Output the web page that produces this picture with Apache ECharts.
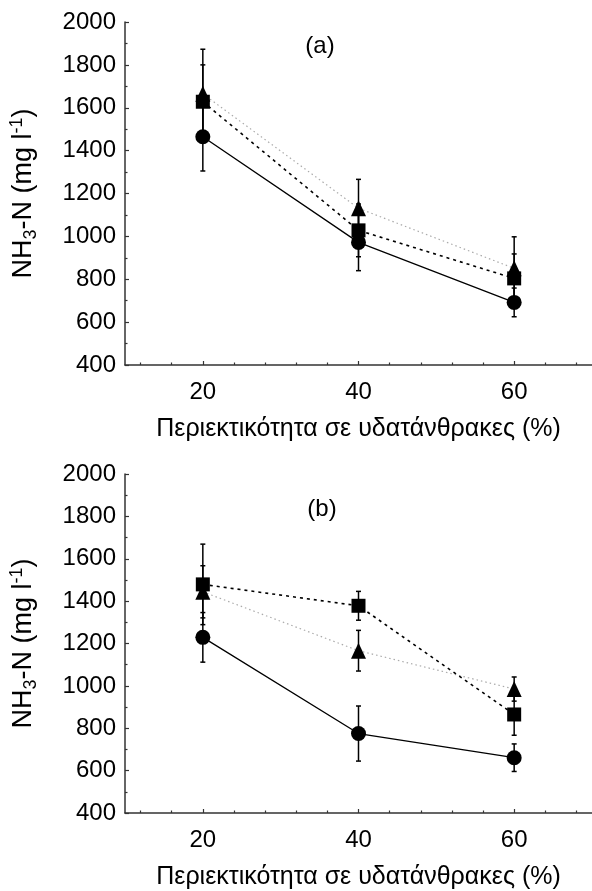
<!DOCTYPE html>
<html><head><meta charset="utf-8">
<script src="https://cdn.jsdelivr.net/npm/echarts@6/dist/echarts.min.js"></script>
<style>html,body{margin:0;padding:0;background:#fff}#c{width:592px;height:891px}</style>
</head><body><div id="c"></div>
<script>
// ---- data ----
const xValues = [20, 40, 60];
const xMajorTicks = [20, 40, 60];
const xMinorTicks = [12, 16, 24, 28, 32, 36, 44, 48, 52, 56, 64, 68];
const panelLabels = ['(a)', '(b)'];
const xTitle = 'Περιεκτικότητα σε υδατάνθρακες (%)';

// Panel (a)
const a_circle = [1465, 972, 692];
const a_circle_err = [160, 132, 67];
const a_square = [1628, 1028, 804];
const a_square_err = [172, 123, 114];
const a_triangle = [1665, 1131, 851];
const a_triangle_err = [208, 135, 147];

// Panel (b)
const b_circle = [1229, 775, 661];
const b_circle_err = [117, 130, 65];
const b_square = [1479, 1378, 865];
const b_square_err = [190, 68, 98];
const b_triangle = [1444, 1166, 985];
const b_triangle_err = [123, 96, 57];

// ---- chart ----
const FONT = "'Liberation Sans', Arial, sans-serif";
const AX = '#333';

function errSeries(xi, yi, vals, errs) {
  return {
    type: 'custom', xAxisIndex: xi, yAxisIndex: yi, silent: true, z: 4,
    data: xValues.map((x, i) => [x, vals[i] - errs[i], vals[i] + errs[i]]),
    renderItem(params, api) {
      const x = api.value(0);
      const lo = api.coord([x, api.value(1)]);
      const hi = api.coord([x, api.value(2)]);
      const w = 2.5;
      const st = { stroke: '#000', lineWidth: 1.5 };
      return { type: 'group', children: [
        { type: 'line', shape: { x1: lo[0], y1: lo[1], x2: hi[0], y2: hi[1] }, style: st },
        { type: 'line', shape: { x1: lo[0] - w, y1: lo[1], x2: lo[0] + w, y2: lo[1] }, style: st },
        { type: 'line', shape: { x1: hi[0] - w, y1: hi[1], x2: hi[0] + w, y2: hi[1] }, style: st }
      ]};
    }
  };
}

function lineSeries(xi, yi, vals, symbol, size, lineStyle, z) {
  return {
    type: 'line', xAxisIndex: xi, yAxisIndex: yi, z: z,
    data: xValues.map((x, i) => [x, vals[i]]),
    symbol: symbol, symbolSize: size, showSymbol: true,
    itemStyle: { color: '#000', borderWidth: 0 },
    lineStyle: lineStyle, silent: true, animation: false
  };
}

function xMajor(gi) {
  return {
    type: 'value', gridIndex: gi, min: 10, max: 70, position: 'bottom',
    axisLine: { show: true, onZero: false, lineStyle: { color: AX, width: 1.5 } },
    axisTick: { show: true, inside: true, length: 4, customValues: xMajorTicks, lineStyle: { color: AX, width: 1.2 } },
    axisLabel: { show: true, customValues: xMajorTicks, fontSize: 24, color: '#000', fontFamily: FONT, margin: 15 },
    splitLine: { show: false },
    name: xTitle, nameLocation: 'middle', nameGap: 52,
    nameTextStyle: { fontSize: 25, color: '#000', fontFamily: FONT }
  };
}
function xMinor(gi) {
  return {
    type: 'value', gridIndex: gi, min: 10, max: 70, position: 'bottom',
    axisLine: { show: false, onZero: false },
    axisTick: { show: true, inside: true, length: 2.5, customValues: xMinorTicks, lineStyle: { color: AX, width: 1.2 } },
    axisLabel: { show: false }, splitLine: { show: false }
  };
}
function yAxis(gi) {
  return {
    type: 'value', gridIndex: gi, min: 400, max: 2000, interval: 200,
    axisLine: { show: true, onZero: false, lineStyle: { color: AX, width: 1.5 } },
    axisTick: { show: true, inside: true, length: 4, lineStyle: { color: AX, width: 1.2 } },
    minorTick: { show: true, splitNumber: 2, length: 2.5, lineStyle: { color: AX, width: 1.2 } },
    axisLabel: { fontSize: 24, color: '#000', fontFamily: FONT, margin: 9, formatter: v => String(v) },
    splitLine: { show: false },
    name: '{n|NH}{s|3}{n|-N (mg l}{p|-1}{n|)}',
    nameLocation: 'middle', nameRotate: 90, nameGap: 85,
    nameTextStyle: {
      fontFamily: FONT, color: '#000',
      rich: {
        n: { fontSize: 27, lineHeight: 32, verticalAlign: 'middle', fontFamily: FONT, color: '#000' },
        s: { fontSize: 18, lineHeight: 32, verticalAlign: 'bottom', fontFamily: FONT, color: '#000' },
        p: { fontSize: 18, lineHeight: 32, verticalAlign: 'top', fontFamily: FONT, color: '#000' }
      }
    }
  };
}

const solid = { color: '#000', width: 1.3, type: 'solid' };
const dashed = { color: '#000', width: 1.6, type: [3, 4] };
const dotted = { color: '#aaa', width: 1.2, type: [1.5, 3] };

function panelSeries(xi, yi, c, ce, s, se, t, te) {
  return [
    lineSeries(xi, yi, t, 'triangle', [15, 16], dotted, 2),
    lineSeries(xi, yi, s, 'rect', 14, dashed, 2),
    lineSeries(xi, yi, c, 'circle', 15, solid, 2),
    errSeries(xi, yi, t, te),
    errSeries(xi, yi, s, se),
    errSeries(xi, yi, c, ce)
  ];
}

const chart = echarts.init(document.getElementById('c'), null, { renderer: 'canvas' });
chart.setOption({
  animation: false,
  backgroundColor: '#fff',
  textStyle: { fontFamily: FONT },
  grid: [
    { left: 123, top: 22, width: 478, height: 343 },
    { left: 123, top: 474, width: 478, height: 343 }
  ],
  xAxis: [xMajor(0), xMinor(0), xMajor(1), xMinor(1)],
  yAxis: [yAxis(0), yAxis(1)],
  graphic: [
    { type: 'text', x: 320, y: 46, style: { text: panelLabels[0], fontSize: 24, fontFamily: FONT, fill: '#000', align: 'center', verticalAlign: 'middle' } },
    { type: 'text', x: 322, y: 509, style: { text: panelLabels[1], fontSize: 24, fontFamily: FONT, fill: '#000', align: 'center', verticalAlign: 'middle' } }
  ],
  series: [].concat(
    panelSeries(0, 0, a_circle, a_circle_err, a_square, a_square_err, a_triangle, a_triangle_err),
    panelSeries(2, 1, b_circle, b_circle_err, b_square, b_square_err, b_triangle, b_triangle_err)
  )
});
</script>
</body></html>
